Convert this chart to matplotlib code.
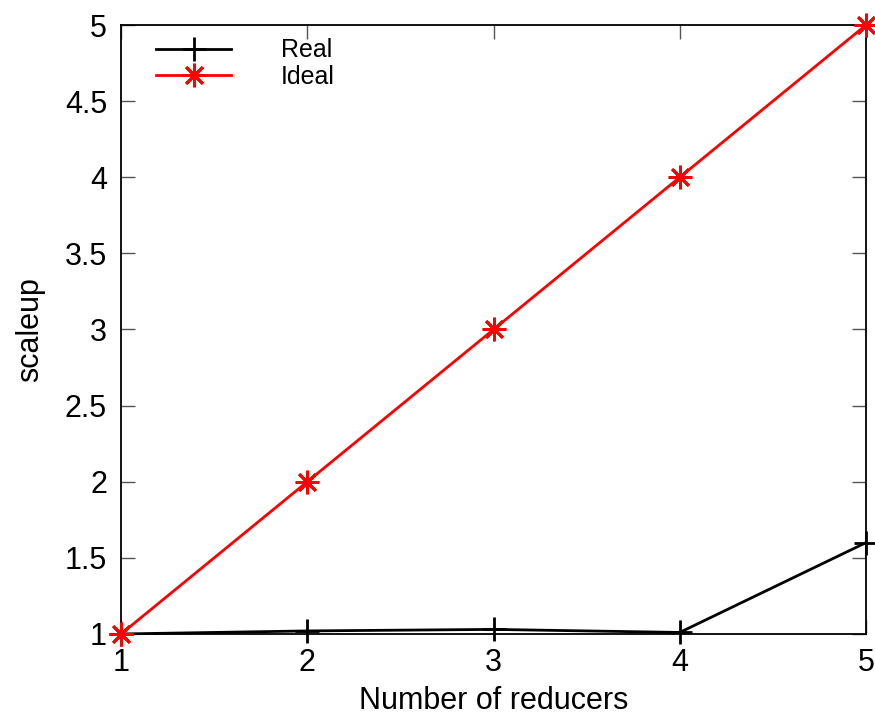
import matplotlib
matplotlib.use("Agg")
import matplotlib.pyplot as plt

plt.rcParams['font.family'] = ['Liberation Sans', 'DejaVu Sans']

reducers = [1, 2, 3, 4, 5]
real = [1.0, 1.02, 1.03, 1.01, 1.6]
ideal = [1, 2, 3, 4, 5]

fig = plt.figure(figsize=(8.75, 7.17), dpi=100)
ax = fig.add_axes([0.1383, 0.1158, 0.8514, 0.8493])

ax.plot(reducers, real, color='black', lw=2, marker='+', ms=17, mew=2,
        label='Real', clip_on=False, zorder=3)
ax.plot(reducers, ideal, color='red', lw=2, marker=(8, 2, 0), ms=17, mew=2,
        label='Ideal', clip_on=False, zorder=3)

ax.set_xlim(1, 5)
ax.set_ylim(1, 5)
ax.set_xticks(reducers)
ax.set_yticks([1, 1.5, 2, 2.5, 3, 3.5, 4, 4.5, 5])
ax.set_yticklabels(['1', '1.5', '2', '2.5', '3', '3.5', '4', '4.5', '5'])
ax.tick_params(direction='in', length=10, width=1, top=True, right=True,
               labelsize=22, pad=10, color='#555555')
for s in ax.spines.values():
    s.set_linewidth(1.3)

ax.set_xlabel('Number of reducers', fontsize=22, labelpad=6)
ax.set_ylabel('scaleup', fontsize=22, labelpad=14)

ax.legend(loc='upper left', frameon=False, fontsize=18, handlelength=3.0,
          handletextpad=2.0, bbox_to_anchor=(0.017, 1.015), labelspacing=0.1)

fig.savefig('out.png', dpi=100)
